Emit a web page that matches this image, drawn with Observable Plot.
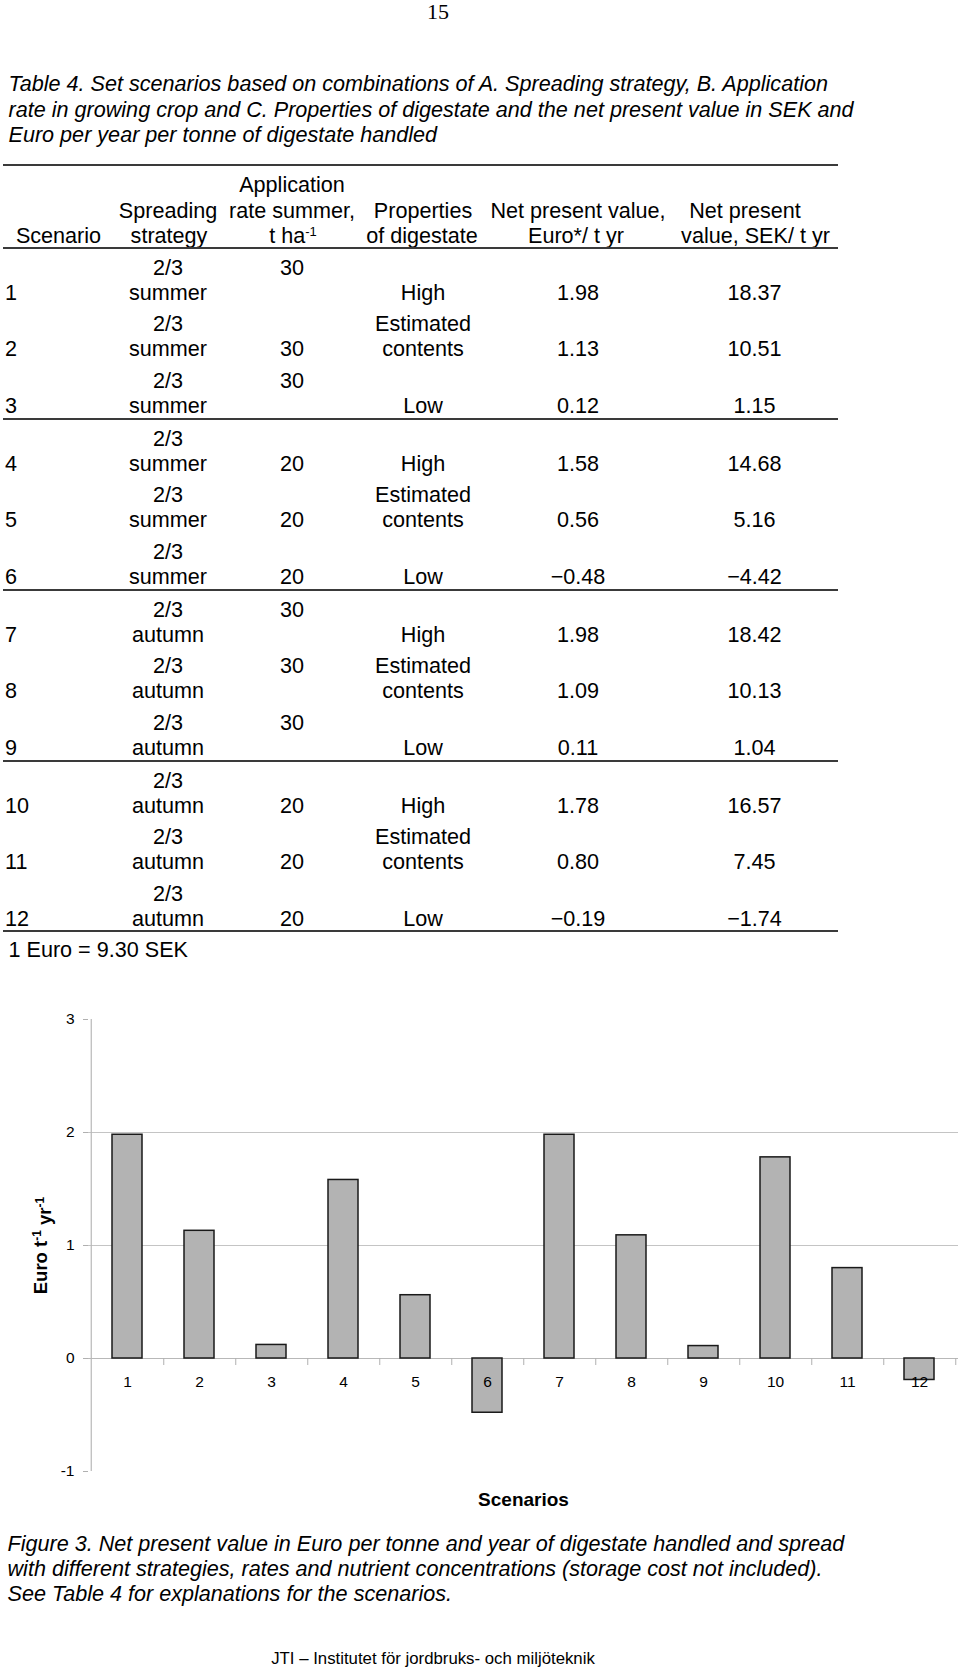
<!DOCTYPE html>
<html>
<head>
<meta charset="utf-8">
<script src="https://cdn.jsdelivr.net/npm/d3@7"></script>
<script src="https://cdn.jsdelivr.net/npm/@observablehq/plot@0.6"></script>
<style>
  html, body { margin: 0; padding: 0; background: #fff; }
  #page { position: relative; width: 960px; height: 1670px; font-family: "Liberation Sans", Arial, sans-serif; color: #000; overflow: hidden; }
  .t { position: absolute; white-space: nowrap; line-height: 26px; font-size: 21.6px; }
  .c { transform: translateX(-50%); }
  .i { font-style: italic; }
  .rule { position: absolute; left: 3px; width: 835px; height: 2px; background: #3a3a3a; }
  sup { font-size: 0.6em; line-height: 0; vertical-align: 0.55em; }
  #chart { position: absolute; left: 0; top: 990px; }
  #pagenum { position: absolute; left: 438px; top: 1px; transform: translateX(-50%); font-family: "Liberation Serif", "Times New Roman", serif; font-size: 22px; line-height: 22px; white-space: nowrap; }
</style>
</head>
<body>
<div id="page"></div>
<script>
// ---------- data ----------
const pageNumber = "15";
const titleLines = [
  "Table 4. Set scenarios based on combinations of A. Spreading strategy, B. Application",
  "rate in growing crop and C. Properties of digestate and the net present value in SEK and",
  "Euro per year per tonne of digestate handled"
];
const scenarios = [1, 2, 3, 4, 5, 6, 7, 8, 9, 10, 11, 12];
const strategies = ["summer", "summer", "summer", "summer", "summer", "summer",
                    "autumn", "autumn", "autumn", "autumn", "autumn", "autumn"];
const shareLabel = "2/3";
const rates = [30, 30, 30, 20, 20, 20, 30, 30, 30, 20, 20, 20];
const rateOnFirstLine = [true, false, true, false, false, false, true, true, true, false, false, false];
const properties = ["High", "Estimated contents", "Low", "High", "Estimated contents", "Low",
                    "High", "Estimated contents", "Low", "High", "Estimated contents", "Low"];
const euroValues = [1.98, 1.13, 0.12, 1.58, 0.56, -0.48, 1.98, 1.09, 0.11, 1.78, 0.80, -0.19];
const sekValues = [18.37, 10.51, 1.15, 14.68, 5.16, -4.42, 18.42, 10.13, 1.04, 16.57, 7.45, -1.74];
const footnote = "1 Euro = 9.30 SEK";
const captionLines = [
  "Figure 3. Net present value in Euro per tonne and  year of digestate handled and spread",
  "with different strategies, rates and nutrient concentrations (storage cost not included).",
  "See Table 4 for explanations for the scenarios."
];
const footer = "JTI \u2013 Institutet f\u00f6r jordbruks- och milj\u00f6teknik";
const yTicks = [-1, 0, 1, 2, 3];
const yLabel = "Euro t-1 yr-1";
const xLabel = "Scenarios";

// ---------- page text ----------
const page = document.getElementById("page");
function put(html, x, y, opts = {}) {
  const d = document.createElement("div");
  d.className = "t" + (opts.align === "left" ? "" : " c") + (opts.italic ? " i" : "");
  d.style.left = x + "px";
  d.style.top = (y - 13) + "px";
  if (opts.size) d.style.fontSize = opts.size + "px";
  if (opts.weight) d.style.fontWeight = opts.weight;
  d.innerHTML = html;
  page.appendChild(d);
  return d;
}
function rule(y) {
  const r = document.createElement("div");
  r.className = "rule";
  r.style.top = (y - 1) + "px";
  page.appendChild(r);
}
const fmt = v => (v < 0 ? "\u2212" : "") + Math.abs(v).toFixed(2);

const pn = document.createElement("div");
pn.id = "pagenum";
pn.textContent = pageNumber;
page.appendChild(pn);

titleLines.forEach((l, i) => put(l, 8.5, 84 + i * 25.5, {align: "left", italic: true}));

rule(165);
// header
put("Application", 292, 185);
put("Spreading", 168, 211);
put("rate summer,", 292, 211);
put("Properties", 423, 211);
put("Net present value,", 578, 211);
put("Net present", 745, 211);
put("Scenario", 58.5, 236);
put("strategy", 169, 236);
put("t ha<sup>-1</sup>", 293, 236);
put("of digestate", 422, 236);
put("Euro*/ t yr", 576, 236);
put("value, SEK/ t yr", 755.5, 236);
rule(248);

scenarios.forEach((s, k) => {
  const g = Math.floor(k / 3), i = k % 3;
  const top = 268 + g * 171 + i * 56.3;
  const bot = top + 25;
  put(String(s), 5, bot, {align: "left"});
  put(shareLabel, 168, top);
  put(strategies[k], 168, bot);
  put(String(rates[k]), 292, rateOnFirstLine[k] ? top : bot);
  const p = properties[k].split(" ");
  if (p.length > 1) { put(p[0], 423, top); put(p[1], 423, bot); }
  else put(p[0], 423, bot);
  put(fmt(euroValues[k]), 578, bot);
  put(fmt(sekValues[k]), 754.5, bot);
  if (i === 2) rule(419 + g * 171 - (g === 3 ? 1 : 0));
});
put(footnote, 8.5, 950, {align: "left"});
captionLines.forEach((l, i) => put(l, 7.5, 1544 + i * 25, {align: "left", italic: true}));
put(footer, 433, 1659, {size: 16.8});

// ---------- chart ----------
const data = scenarios.map((s, i) => ({scenario: s, value: euroValues[i]}));
const step = 870 / scenarios.length;
const chart = Plot.plot({
  width: 960,
  height: 526,
  marginTop: 29,
  marginBottom: 45,
  marginLeft: 88,
  marginRight: 2,
  style: {fontFamily: '"Liberation Sans", Arial, sans-serif', fontSize: "15.5px", color: "#000", background: "#fff"},
  x: {type: "band", domain: scenarios, paddingInner: 0.59, paddingOuter: 0.295, axis: null},
  y: {domain: [-1, 3], axis: null},
  marks: [
    Plot.ruleY([1, 2], {stroke: "#c4c4c4", strokeWidth: 1.2}),
    Plot.ruleY([0], {stroke: "#b8b8b8", strokeWidth: 1.2}),
    Plot.ruleX(scenarios, {x: d => d, y1: 0, y2: -0.062, dx: step / 2, stroke: "#b0b0b0", strokeWidth: 1}),
    Plot.ruleX([scenarios[0]], {x: d => d, y1: -1, y2: 3, dx: -step / 2, stroke: "#b8b8b8", strokeWidth: 1.2}),
    Plot.axisY({ticks: yTicks, tickSize: 5, tickPadding: 9, stroke: "#b0b0b0", tickFormat: d => String(d), fontSize: 15.5, label: null}),
    Plot.barY(data, {x: "scenario", y: "value", fill: "#b3b3b3", stroke: "#1a1a1a", strokeWidth: 1.5}),
    Plot.text(scenarios, {x: d => d, y: 0, dy: 24, text: d => String(d), fontSize: 15.5, fill: "#000"}),
    Plot.text([yLabel], {frameAnchor: "left", dx: -47, rotate: -90, textAnchor: "middle", lineAnchor: "middle", fontWeight: "bold", fontSize: 18.5, fill: "#000"}),
    Plot.text([xLabel], {frameAnchor: "bottom", dy: 28, textAnchor: "middle", lineAnchor: "middle", fontWeight: "bold", fontSize: 19, fill: "#000"})
  ]
});
chart.id = "chart";
page.appendChild(chart);

// superscripts in the y-axis title
d3.select(chart).selectAll("text").filter(function () { return this.textContent === yLabel; })
  .each(function () {
    const t = d3.select(this);
    t.text(null);
    t.append("tspan").text("Euro t");
    t.append("tspan").attr("dy", "-0.55em").attr("font-size", "12px").text("-1");
    t.append("tspan").attr("dy", "0.55em").text(" yr");
    t.append("tspan").attr("dy", "-0.55em").attr("font-size", "12px").text("-1");
  });
</script>
</body>
</html>
